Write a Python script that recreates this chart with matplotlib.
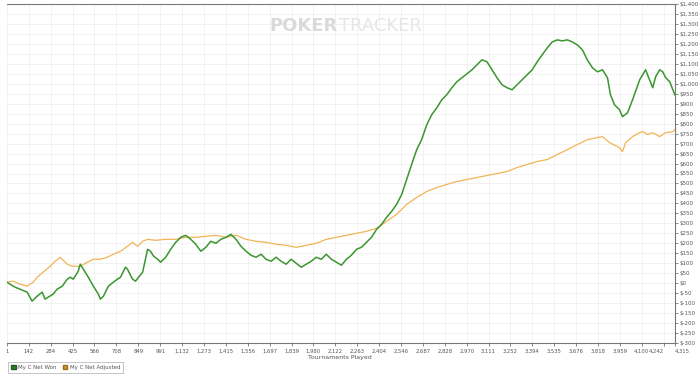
import numpy as np
import matplotlib
matplotlib.use("Agg")
import matplotlib.pyplot as plt
from matplotlib.patches import Patch
from matplotlib.ticker import FuncFormatter, MultipleLocator

# tournament number / cumulative $
won_t = [1, 20, 53, 85, 131, 163, 196, 228, 247, 267, 299, 325, 358, 390, 410, 429,
         461, 474, 494, 526, 559, 591, 604, 624, 656, 688, 714, 734, 766, 779, 812, 831,
         851, 877, 909, 928, 948, 974, 993, 1026, 1058, 1091, 1123, 1155, 1188, 1220,
         1253, 1285, 1317, 1350, 1382, 1415, 1447, 1480, 1512, 1545, 1577, 1609, 1642,
         1674, 1707, 1739, 1771, 1804, 1836, 1869, 1901, 1934, 1966, 1998, 2031, 2063,
         2096, 2128, 2161, 2193, 2225, 2258, 2290, 2323, 2355, 2388, 2420, 2452, 2485,
         2517, 2550, 2582, 2614, 2647, 2679, 2712, 2744, 2777, 2809, 2841, 2874, 2906,
         2939, 2971, 3004, 3036, 3068, 3101, 3133, 3166, 3198, 3231, 3263, 3295, 3328,
         3360, 3393, 3425, 3457, 3490, 3522, 3555, 3587, 3620, 3652, 3684, 3717, 3749,
         3782, 3814, 3847, 3879, 3898, 3924, 3956, 3976, 4009, 4041, 4087, 4125, 4158,
         4171, 4190, 4216, 4236, 4255, 4281, 4301, 4314]
won_v = [5, -5, -20, -30, -45, -90, -65, -45, -80, -70, -55, -30, -15, 20, 30, 20,
         60, 95, 70, 30, -15, -55, -80, -65, -15, 5, 20, 30, 80, 70, 20, 10,
         30, 55, 170, 160, 135, 120, 105, 130, 170, 205, 230, 240, 220, 195,
         160, 180, 210, 200, 220, 230, 245, 220, 185, 160, 140, 130, 145,
         120, 110, 130, 110, 95, 120, 100, 80, 95, 110, 130, 120, 145,
         120, 105, 90, 120, 140, 170, 180, 205, 230, 270, 295, 330, 360,
         395, 445, 520, 595, 670, 720, 795, 845, 880, 920, 945, 980, 1010,
         1030, 1050, 1070, 1095, 1120, 1110, 1070, 1030, 995, 980, 970, 995, 1020,
         1045, 1070, 1110, 1145, 1180, 1210, 1220, 1215, 1220, 1210, 1195, 1170, 1120,
         1080, 1060, 1070, 1030, 945, 895, 870, 835, 855, 920, 1020, 1070, 1005,
         980, 1035, 1070, 1060, 1030, 1010, 970, 945]

adj_t = [1, 40, 85, 131, 170, 196, 234, 280, 312, 345, 390, 423, 474, 520, 559, 604,
         649, 688, 734, 779, 812, 844, 877, 909, 961, 1026, 1091, 1155, 1220, 1285,
         1350, 1415, 1480, 1545, 1609, 1674, 1739, 1804, 1869, 1934, 1998, 2063, 2128,
         2193, 2258, 2323, 2388, 2452, 2517, 2582, 2647, 2712, 2777, 2841, 2906, 2971,
         3036, 3101, 3166, 3231, 3295, 3360, 3425, 3490, 3555, 3620, 3684, 3749, 3814,
         3847, 3892, 3956, 3976, 3996, 4041, 4087, 4106, 4138, 4171, 4216, 4255, 4301, 4314]
adj_v = [5, 10, -5, -15, 5, 30, 55, 85, 110, 130, 95, 85, 85, 105, 120, 120,
         130, 145, 160, 185, 205, 185, 210, 220, 215, 220, 220, 230, 230, 235,
         240, 230, 240, 220, 210, 205, 195, 190, 180, 190, 200, 220, 230,
         240, 250, 260, 275, 310, 345, 395, 430, 460, 480, 495, 510, 520,
         530, 540, 550, 560, 580, 595, 610, 620, 645, 670, 695, 720, 730,
         735, 705, 680, 660, 705, 735, 755, 760, 745, 755, 735, 755, 760, 770]

tick_pos = [1, 142, 284, 425, 566, 708, 849, 991, 1132, 1273, 1415, 1556, 1697, 1839,
            1980, 2122, 2263, 2404, 2546, 2687, 2828, 2970, 3111, 3252, 3394, 3535,
            3676, 3818, 3959, 4100, 4242, 4315]
tick_lbl = ['1', '142', '284', '425', '566', '708', '849', '991', '1,132', '1,273',
            '1,415', '1,556', '1,697', '1,839', '1,980', '2,122', '2,263', '2,404',
            '2,546', '2,687', '2,828', '2,970', '3,111', '3,252', '3,394', '3,535',
            '3,676', '3,818', '3,959', '4,100', '4,242', '4,315']

green = '#3a962e'
orange = '#f2b457'

fig = plt.figure(figsize=(7, 3.78), dpi=100)
ax = fig.add_axes([7/700, 1 - 343/378, 668/700, 339/378])

ax.plot(adj_t, adj_v, color=orange, lw=0.9, zorder=3)
ax.plot(won_t, won_v, color=green, lw=1.1, zorder=4)

ax.set_xlim(1, 4315)
ax.set_ylim(-300, 1400)

ax.set_xticks(tick_pos)
ax.set_xticklabels(tick_lbl, fontsize=3.8, color='#555555')
labels = ax.get_xticklabels()
labels[-2].set_horizontalalignment('right')
labels[-1].set_horizontalalignment('left')
ax.yaxis.set_major_locator(MultipleLocator(50))
ax.yaxis.set_major_formatter(FuncFormatter(lambda v, p: '${:,.0f}'.format(v)))
ax.yaxis.tick_right()
ax.tick_params(axis='y', labelsize=4, colors='#555555', length=2.5, width=0.5, pad=1)
ax.tick_params(axis='x', length=2.5, width=0.5, pad=1.5, colors='#555555')

ax.grid(True, color='#ededed', lw=0.5)
ax.set_axisbelow(True)
ax.spines['left'].set_visible(False)
for s in ['top', 'right', 'bottom']:
    ax.spines[s].set_color('#777777')
    ax.spines[s].set_linewidth(0.8)

fig.text(340/700, 1 - 357/378, 'Tournaments Played', fontsize=4.5, color='#555555',
         ha='center', va='center')

# watermark
fig.text(338/700, 1 - 26/378, 'POKER', fontsize=13, fontweight='bold', color='#dadada',
         ha='right', va='center', zorder=0)
fig.text(339/700, 1 - 26/378, 'TRACKER', fontsize=13, color='#e6e6e6',
         ha='left', va='center', zorder=0)

handles = [Patch(facecolor='#2f7d2a', edgecolor='#1f5a1c', label='My C Net Won'),
           Patch(facecolor='#d69632', edgecolor='#9c6a1c', label='My C Net Adjusted')]
leg = fig.legend(handles=handles, loc='lower left', bbox_to_anchor=(5/700, 2/378),
                 ncol=2, fontsize=4, frameon=True, fancybox=False, handlelength=0.8,
                 handleheight=0.8, handletextpad=0.4, columnspacing=1.2,
                 borderpad=0.6, labelcolor='#555555')
leg.get_frame().set_edgecolor('#aaaaaa')
leg.get_frame().set_linewidth(0.6)

fig.savefig('out.png', dpi=100)
